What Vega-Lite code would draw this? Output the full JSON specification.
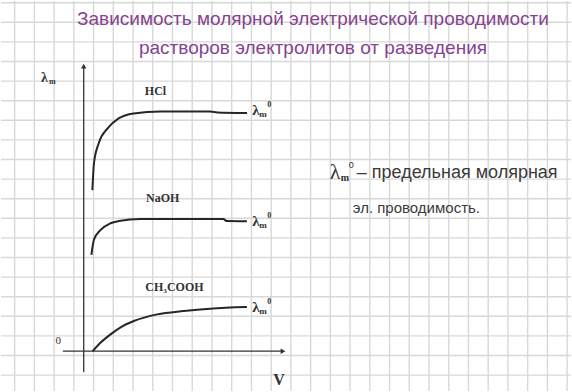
{
  "$schema": "https://vega.github.io/schema/vega-lite/v6.json",
  "width": 572,
  "height": 392,
  "padding": 0,
  "autosize": {"type": "fit", "contains": "padding"},
  "background": "#ffffff",
  "view": {"stroke": null},
  "datasets": {
    "grid_v": [
      {"x": -3.5}, {"x": -2.5}, {"x": -1.5}, {"x": -0.5}, {"x": 0.5}, {"x": 1.5}, {"x": 2.5}, {"x": 3.5},
      {"x": 4.5}, {"x": 5.5}, {"x": 6.5}, {"x": 7.5}, {"x": 8.5}, {"x": 9.5}, {"x": 10.5}, {"x": 11.5},
      {"x": 12.5}, {"x": 13.5}, {"x": 14.5}, {"x": 15.5}, {"x": 16.5}, {"x": 17.5}, {"x": 18.5}, {"x": 19.5},
      {"x": 20.5}, {"x": 21.5}, {"x": 22.5}, {"x": 23.5}, {"x": 24.5}
    ],
    "grid_h": [
      {"y": -1.22}, {"y": -0.22}, {"y": 0.78}, {"y": 1.78}, {"y": 2.78}, {"y": 3.78}, {"y": 4.78},
      {"y": 5.78}, {"y": 6.78}, {"y": 7.78}, {"y": 8.78}, {"y": 9.78}, {"y": 10.78}, {"y": 11.78},
      {"y": 12.78}, {"y": 13.78}, {"y": 14.78}, {"y": 15.78}, {"y": 16.78}, {"y": 17.78}
    ],
    "axes": [
      {"x": 0, "y": -1.07, "x2": 0, "y2": 14.5},
      {"x": -1.06, "y": 0, "x2": 10.05, "y2": 0}
    ],
    "arrows": [
      {"x": 0, "y": 14.55, "dir": "up"},
      {"x": 10.1, "y": 0, "dir": "right"}
    ],
    "curves": [
      {"series": "HCl", "i": 0, "x": 0.44, "y": 8.22},
      {"series": "HCl", "i": 1, "x": 0.52, "y": 9.59},
      {"series": "HCl", "i": 2, "x": 0.76, "y": 10.61},
      {"series": "HCl", "i": 3, "x": 1.21, "y": 11.37},
      {"series": "HCl", "i": 4, "x": 1.77, "y": 11.88},
      {"series": "HCl", "i": 5, "x": 2.53, "y": 12.13},
      {"series": "HCl", "i": 6, "x": 3.89, "y": 12.23},
      {"series": "HCl", "i": 7, "x": 6.41, "y": 12.23},
      {"series": "HCl", "i": 8, "x": 6.77, "y": 12.18},
      {"series": "HCl", "i": 9, "x": 8.28, "y": 12.15},
      {"series": "NaOH", "i": 0, "x": 0.39, "y": 4.92},
      {"series": "NaOH", "i": 1, "x": 0.52, "y": 5.69},
      {"series": "NaOH", "i": 2, "x": 0.86, "y": 6.19},
      {"series": "NaOH", "i": 3, "x": 1.36, "y": 6.53},
      {"series": "NaOH", "i": 4, "x": 1.78, "y": 6.64},
      {"series": "NaOH", "i": 5, "x": 2.88, "y": 6.74},
      {"series": "NaOH", "i": 6, "x": 7.07, "y": 6.74},
      {"series": "NaOH", "i": 7, "x": 7.26, "y": 6.64},
      {"series": "NaOH", "i": 8, "x": 8.27, "y": 6.63},
      {"series": "CH3COOH", "i": 0, "x": 0.45, "y": 0.0},
      {"series": "CH3COOH", "i": 1, "x": 0.86, "y": 0.44},
      {"series": "CH3COOH", "i": 2, "x": 1.36, "y": 0.86},
      {"series": "CH3COOH", "i": 3, "x": 1.87, "y": 1.22},
      {"series": "CH3COOH", "i": 4, "x": 2.54, "y": 1.54},
      {"series": "CH3COOH", "i": 5, "x": 3.72, "y": 1.88},
      {"series": "CH3COOH", "i": 6, "x": 5.07, "y": 2.05},
      {"series": "CH3COOH", "i": 7, "x": 6.41, "y": 2.17},
      {"series": "CH3COOH", "i": 8, "x": 8.27, "y": 2.25}
    ],
    "species": [
      {"name": "HCl", "x": 3.64, "y": 13.3},
      {"name": "NaOH", "x": 4.0, "y": 7.82},
      {"name": "CH₃COOH", "x": 4.6, "y": 3.3}
    ],
    "limits": [
      {"series": "HCl", "x": 8.54, "y": 12.3},
      {"series": "NaOH", "x": 8.54, "y": 6.65},
      {"series": "CH3COOH", "x": 8.54, "y": 2.28}
    ],
    "ylabel": [{"x": -2.17, "y": 13.96}],
    "origin": [{"x": -1.29, "y": 0.53}],
    "xlabel": [{"x": 9.9, "y": -1.47}],
    "note_symbol": [{"x": 12.47, "y": 9.14}],
    "note_first": [{"line": "– предельная молярная", "x": 13.84, "y": 9.09}],
    "note_second": [{"line": "эл. проводимость.", "x": 13.64, "y": 7.31}],
    "heading": [
      {"line": "Зависимость молярной электрической проводимости", "x": 11.62, "y": 16.95},
      {"line": "растворов электролитов от разведения", "x": 11.62, "y": 15.48}
    ]
  },
  "encoding": {
    "x": {"type": "quantitative", "scale": {"domain": [-4.192, 24.697], "nice": false, "zero": false}, "axis": null},
    "y": {"type": "quantitative", "scale": {"domain": [-2.03, 17.868], "nice": false, "zero": false}, "axis": null}
  },
  "layer": [
    {
      "data": {"name": "grid_v"},
      "mark": {"type": "rule", "stroke": "#d8d8d8", "strokeWidth": 1.4},
      "encoding": {"x": {"field": "x", "type": "quantitative"}, "y": null}
    },
    {
      "data": {"name": "grid_h"},
      "mark": {"type": "rule", "stroke": "#d8d8d8", "strokeWidth": 1.4},
      "encoding": {"y": {"field": "y", "type": "quantitative"}, "x": null}
    },
    {
      "data": {"name": "axes"},
      "mark": {"type": "rule", "stroke": "#333333", "strokeWidth": 1.3},
      "encoding": {
        "x": {"field": "x", "type": "quantitative"},
        "y": {"field": "y", "type": "quantitative"},
        "x2": {"field": "x2"},
        "y2": {"field": "y2"}
      }
    },
    {
      "data": {"name": "arrows"},
      "mark": {"type": "point", "filled": true, "color": "#333333", "size": 30, "opacity": 1},
      "encoding": {
        "x": {"field": "x", "type": "quantitative"},
        "y": {"field": "y", "type": "quantitative"},
        "shape": {"field": "dir", "type": "nominal", "scale": {"domain": ["up", "right"], "range": ["triangle-up", "triangle-right"]}, "legend": null}
      }
    },
    {
      "data": {"name": "curves"},
      "mark": {"type": "line", "interpolate": "monotone", "stroke": "#262626", "strokeWidth": 2},
      "encoding": {
        "x": {"field": "x", "type": "quantitative"},
        "y": {"field": "y", "type": "quantitative"},
        "detail": {"field": "series"},
        "order": {"field": "i", "type": "quantitative"}
      }
    },
    {
      "data": {"name": "species"},
      "mark": {"type": "text", "font": "Liberation Serif", "fontSize": 12, "fontWeight": "bold", "color": "#333333", "align": "center", "baseline": "middle"},
      "encoding": {
        "x": {"field": "x", "type": "quantitative"},
        "y": {"field": "y", "type": "quantitative"},
        "text": {"field": "name"}
      }
    },
    {
      "data": {"name": "limits"},
      "mark": {"type": "text", "font": "Liberation Serif", "fontSize": 15, "fontWeight": "bold", "color": "#333333", "align": "left", "baseline": "middle"},
      "encoding": {"x": {"field": "x", "type": "quantitative"}, "y": {"field": "y", "type": "quantitative"}, "text": {"value": "λ"}}
    },
    {
      "data": {"name": "limits"},
      "mark": {"type": "text", "font": "Liberation Serif", "fontSize": 9, "fontWeight": "bold", "color": "#333333", "align": "left", "baseline": "middle", "dx": 7, "dy": 4},
      "encoding": {"x": {"field": "x", "type": "quantitative"}, "y": {"field": "y", "type": "quantitative"}, "text": {"value": "m"}}
    },
    {
      "data": {"name": "limits"},
      "mark": {"type": "text", "font": "Liberation Serif", "fontSize": 8, "fontWeight": "bold", "color": "#333333", "align": "left", "baseline": "middle", "dx": 15, "dy": -5},
      "encoding": {"x": {"field": "x", "type": "quantitative"}, "y": {"field": "y", "type": "quantitative"}, "text": {"value": "0"}}
    },
    {
      "data": {"name": "ylabel"},
      "mark": {"type": "text", "font": "Liberation Serif", "fontSize": 14, "fontWeight": "bold", "color": "#333333", "align": "left", "baseline": "middle"},
      "encoding": {"x": {"field": "x", "type": "quantitative"}, "y": {"field": "y", "type": "quantitative"}, "text": {"value": "λ"}}
    },
    {
      "data": {"name": "ylabel"},
      "mark": {"type": "text", "font": "Liberation Serif", "fontSize": 8, "fontWeight": "bold", "color": "#333333", "align": "left", "baseline": "middle", "dx": 8, "dy": 4},
      "encoding": {"x": {"field": "x", "type": "quantitative"}, "y": {"field": "y", "type": "quantitative"}, "text": {"value": "m"}}
    },
    {
      "data": {"name": "origin"},
      "mark": {"type": "text", "font": "Liberation Serif", "fontSize": 11, "color": "#333333", "align": "center", "baseline": "middle"},
      "encoding": {"x": {"field": "x", "type": "quantitative"}, "y": {"field": "y", "type": "quantitative"}, "text": {"value": "0"}}
    },
    {
      "data": {"name": "xlabel"},
      "mark": {"type": "text", "font": "Liberation Serif", "fontSize": 16, "fontWeight": "bold", "color": "#333333", "align": "center", "baseline": "middle"},
      "encoding": {"x": {"field": "x", "type": "quantitative"}, "y": {"field": "y", "type": "quantitative"}, "text": {"value": "V"}}
    },
    {
      "data": {"name": "note_symbol"},
      "mark": {"type": "text", "font": "Liberation Serif", "fontSize": 22, "color": "#333333", "align": "left", "baseline": "middle"},
      "encoding": {"x": {"field": "x", "type": "quantitative"}, "y": {"field": "y", "type": "quantitative"}, "text": {"value": "λ"}}
    },
    {
      "data": {"name": "note_symbol"},
      "mark": {"type": "text", "font": "Liberation Serif", "fontSize": 10, "fontWeight": "bold", "color": "#333333", "align": "left", "baseline": "middle", "dx": 11, "dy": 6},
      "encoding": {"x": {"field": "x", "type": "quantitative"}, "y": {"field": "y", "type": "quantitative"}, "text": {"value": "m"}}
    },
    {
      "data": {"name": "note_symbol"},
      "mark": {"type": "text", "font": "Liberation Sans", "fontSize": 9, "color": "#333333", "align": "left", "baseline": "middle", "dx": 19, "dy": -7},
      "encoding": {"x": {"field": "x", "type": "quantitative"}, "y": {"field": "y", "type": "quantitative"}, "text": {"value": "0"}}
    },
    {
      "data": {"name": "note_first"},
      "mark": {"type": "text", "font": "Liberation Sans", "fontSize": 18, "color": "#3a3a3a", "align": "left", "baseline": "middle"},
      "encoding": {"x": {"field": "x", "type": "quantitative"}, "y": {"field": "y", "type": "quantitative"}, "text": {"field": "line"}}
    },
    {
      "data": {"name": "note_second"},
      "mark": {"type": "text", "font": "Liberation Sans", "fontSize": 15, "color": "#3a3a3a", "align": "left", "baseline": "middle"},
      "encoding": {"x": {"field": "x", "type": "quantitative"}, "y": {"field": "y", "type": "quantitative"}, "text": {"field": "line"}}
    },
    {
      "data": {"name": "heading"},
      "mark": {"type": "text", "font": "Liberation Sans", "fontSize": 19, "color": "#86448f", "align": "center", "baseline": "middle"},
      "encoding": {"x": {"field": "x", "type": "quantitative"}, "y": {"field": "y", "type": "quantitative"}, "text": {"field": "line"}}
    }
  ]
}
